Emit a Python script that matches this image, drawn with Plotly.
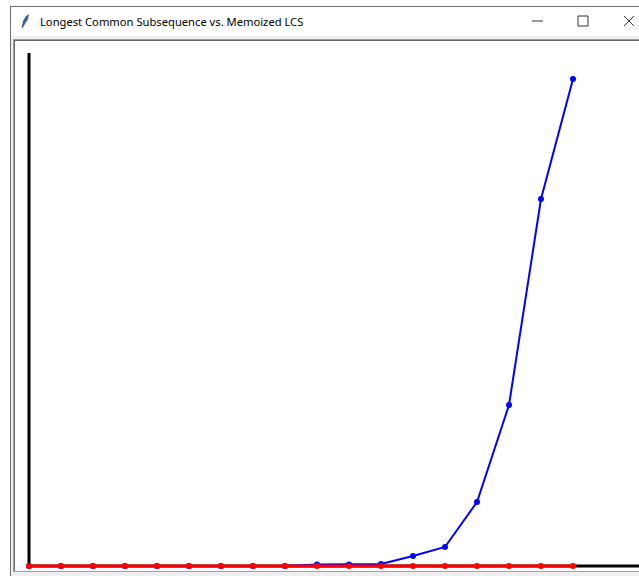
import plotly.graph_objects as go

# window size in pixels (tkinter canvas screenshot)
W, H = 639, 576

# input sizes (x positions on the canvas) and measured times (canvas units)
sizes = list(range(18))
lcs_times = [0, 0, 0, 0, 0, 0, 0, 0, 0, 1.5, 1.5, 2, 10, 19, 64, 161, 367, 487]
memo_times = [0] * 18

title_text = "Longest Common Subsequence vs. Memoized LCS"

# canvas mapping: index i -> pixel 29 + 32*i, value v -> pixel 566 - v
X0, DX, Y0 = 29, 32, 566


def px(x):
    return x / W


def py(y):
    return 1 - y / H


def rect(x0, y0, x1, y1, fill, line=None):
    return dict(type="rect", xref="paper", yref="paper",
                x0=px(x0), x1=px(x1), y0=py(y1), y1=py(y0),
                fillcolor=fill, line=dict(width=0) if line is None else line,
                layer="below")


def seg(x0, y0, x1, y1, color, width=1, layer="above"):
    return dict(type="line", xref="paper", yref="paper",
                x0=px(x0), x1=px(x1), y0=py(y0), y1=py(y1),
                line=dict(color=color, width=width), layer=layer)


def path(points, fill):
    d = "M " + " L ".join(f"{px(a):.5f},{py(b):.5f}" for a, b in points) + " Z"
    return dict(type="path", xref="paper", yref="paper", path=d,
                fillcolor=fill, line=dict(width=0), layer="above")


fig = go.Figure()

fig.add_trace(go.Scatter(
    x=sizes, y=lcs_times, mode="lines+markers", name="LCS",
    line=dict(color="#0000ff", width=2),
    marker=dict(color="#0000ff", size=6),
))
fig.add_trace(go.Scatter(
    x=sizes, y=memo_times, mode="lines+markers", name="Memoized LCS",
    line=dict(color="#ff0000", width=3),
    marker=dict(color="#ff0000", size=6),
))

shapes = [
    # window chrome
    rect(10, 6, W, H, "#f0f0f0"),
    rect(11, 7, W, 36, "#ffffff"),
    seg(10, 6.5, W, 6.5, "#6e6e6e"),
    seg(10.5, 6, 10.5, H, "#6e6e6e"),
    # canvas with sunken border
    rect(13, 39, W, 572, "#a0a0a0"),
    rect(14, 40, W, 571, "#696969"),
    rect(15, 41, W, 571, "#ffffff"),
    # title bar controls
    seg(532, 21, 543, 21, "#333333"),
    dict(type="rect", xref="paper", yref="paper",
         x0=px(578), x1=px(588), y0=py(26), y1=py(16),
         line=dict(color="#333333", width=1), fillcolor="rgba(0,0,0,0)"),
    seg(624, 16, 634, 26, "#333333"),
    seg(624, 26, 634, 16, "#333333"),
    # feather icon
    path([(21.5, 28), (23, 21), (26, 16), (29, 14), (28, 19), (25, 24), (22.5, 28)], "#3a5f9a"),
    # axes of the canvas
    dict(type="line", xref="x", yref="y", x0=0, x1=0, y0=0, y1=Y0 - 53,
         line=dict(color="#000000", width=3), layer="below"),
    dict(type="line", xref="x", yref="y", x0=0, x1=(W - X0) / DX, y0=0, y1=0,
         line=dict(color="#000000", width=3), layer="below"),
]

fig.update_layout(
    width=W, height=H,
    margin=dict(l=0, r=0, t=0, b=0),
    paper_bgcolor="#ffffff",
    plot_bgcolor="rgba(0,0,0,0)",
    showlegend=False,
    shapes=shapes,
    annotations=[dict(
        text=title_text, xref="paper", yref="paper",
        x=px(38), y=py(21.5), xanchor="left", yanchor="middle",
        showarrow=False, font=dict(family="Noto Sans", size=11.2, color="#000000"),
    )],
)
fig.update_xaxes(range=[-X0 / DX, (W - X0) / DX], visible=False, fixedrange=True)
fig.update_yaxes(range=[Y0 - H, Y0], visible=False, fixedrange=True)

# page body has a default 8px margin; drop it so the figure fills the window
fig.write_html("out.html", config={"displayModeBar": False},
               post_script="document.body.style.margin='0';document.body.style.overflow='hidden';")
